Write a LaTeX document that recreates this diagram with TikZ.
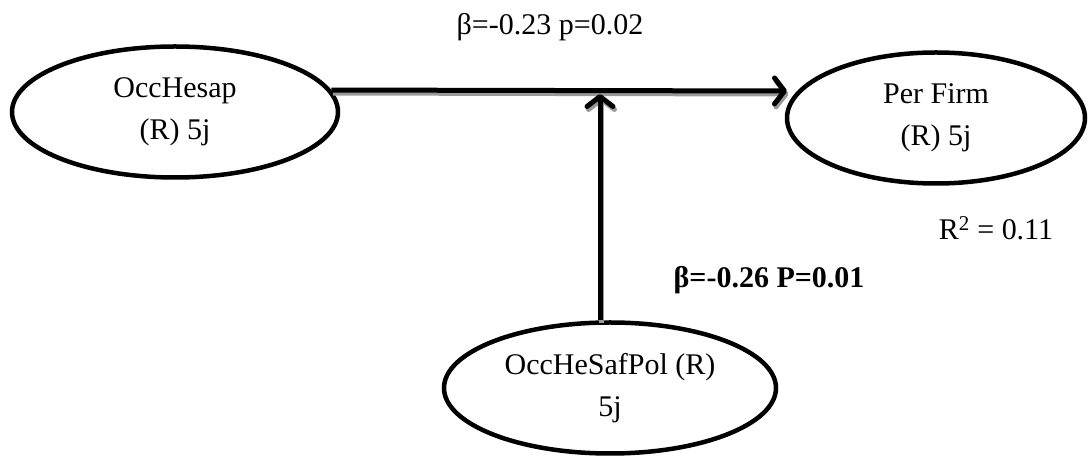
\documentclass[tikz,border=0pt]{standalone}
\usepackage{fontspec}
\setmainfont{Liberation Serif}
\usetikzlibrary{arrows.meta,shapes.geometric}
\tikzset{
  latent/.style={ellipse, draw=black, line width=4.5pt, inner sep=0pt,
    align=center, font=\fontsize{30}{42}\selectfont},
  lbl/.style={font=\fontsize{30}{36}\selectfont, inner sep=0pt, anchor=base},
  arrowtip/.style={-{Straight Barb[length=10pt,width=26pt,round]}},
  path arrow/.style={line width=5pt, draw=black, arrowtip},
  shadow arrow/.style={line width=5pt, draw=black!40, arrowtip}
}
\begin{document}
\begin{tikzpicture}[x=1pt,y=1pt]
\useasboundingbox (0,0) rectangle (1088,460);
\node[latent, minimum width=326pt, minimum height=131pt] (a) at (175,348) {OccHesap\\(R) 5j};
\node[latent, minimum width=298pt, minimum height=131pt] (b) at (936,342) {Per Firm\\(R) 5j};
\node[latent, minimum width=332pt, minimum height=131pt] (c) at (610,72) {OccHeSafPol (R)\\5j};
\coordinate (j) at (600,369);
\coordinate (t) at (787,369);
\draw[shadow arrow] ([shift={(1.5,-3)}]a.8) -- ([shift={(1.5,-3)}]t);
\draw[shadow arrow] ([shift={(1.5,-3)}]c.north -| j) -- ([shift={(1.5,-6)}]j);
\draw[path arrow] (a.8) -- (t);
\draw[path arrow] (c.north -| j) -- ([yshift=-3pt]j);
\node[lbl] (l1) at (550,425) {β=-0.23 p=0.02};
\node[lbl, font=\fontsize{30}{36}\selectfont\bfseries] (l2) at (769,172) {β=-0.26 P=0.01};
\node[lbl] (l3) at (996,220) {R\textsuperscript{2} = 0.11};
\end{tikzpicture}
\end{document}
